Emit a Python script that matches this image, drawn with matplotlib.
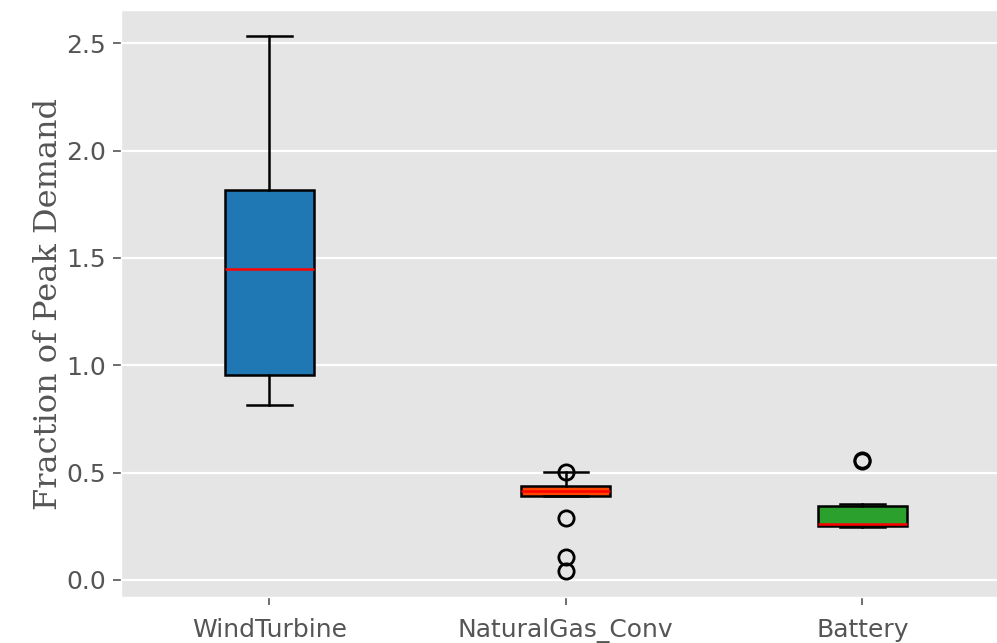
import matplotlib.pyplot as plt

plt.style.use("ggplot")

# Box statistics
labels = ["WindTurbine", "NaturalGas_Conv", "Battery"]
whislo = [0.815, 0.392, 0.245]
q1 = [0.955, 0.393, 0.252]
med = [1.448, 0.416, 0.260]
q3 = [1.816, 0.439, 0.342]
whishi = [2.533, 0.501, 0.354]
fliers = [[], [0.503, 0.287, 0.106, 0.039], [0.555, 0.560]]
colors = ["#1f77b4", "#ff4500", "#2ca02c"]

stats = []
for i in range(len(labels)):
    stats.append(dict(label=labels[i], whislo=whislo[i], q1=q1[i], med=med[i],
                      q3=q3[i], whishi=whishi[i], fliers=fliers[i]))

fig = plt.figure(figsize=(9.97, 6.43), dpi=100)
ax = fig.add_axes([0.1214, 0.0715, 0.8922, 0.9129])

lw = 1.8
bp = ax.bxp(stats, positions=[1, 2, 3], widths=0.3, patch_artist=True,
            boxprops=dict(linewidth=lw, edgecolor="black"),
            whiskerprops=dict(linewidth=lw, color="black"),
            capprops=dict(linewidth=lw, color="black"),
            medianprops=dict(linewidth=1.8, color="red"),
            flierprops=dict(marker="o", markersize=11, markerfacecolor="none",
                            markeredgecolor="black", markeredgewidth=2.0))
for patch, c in zip(bp["boxes"], colors):
    patch.set_facecolor(c)

ax.grid(axis="x", visible=False)
ax.grid(axis="y", color="white", linewidth=1.6)
ax.set_xlim(0.5, 3.5)
ax.set_ylim(-0.08, 2.655)
ax.tick_params(axis="both", labelsize=18, colors="#555555", length=6, width=1.2)
ax.tick_params(axis="x", pad=9)
ax.tick_params(axis="y", pad=5)
ax.set_ylabel("Fraction of Peak Demand", family="DejaVu Serif", fontsize=23,
              color="#555555", labelpad=1)

fig.savefig("out.png", dpi=100)
